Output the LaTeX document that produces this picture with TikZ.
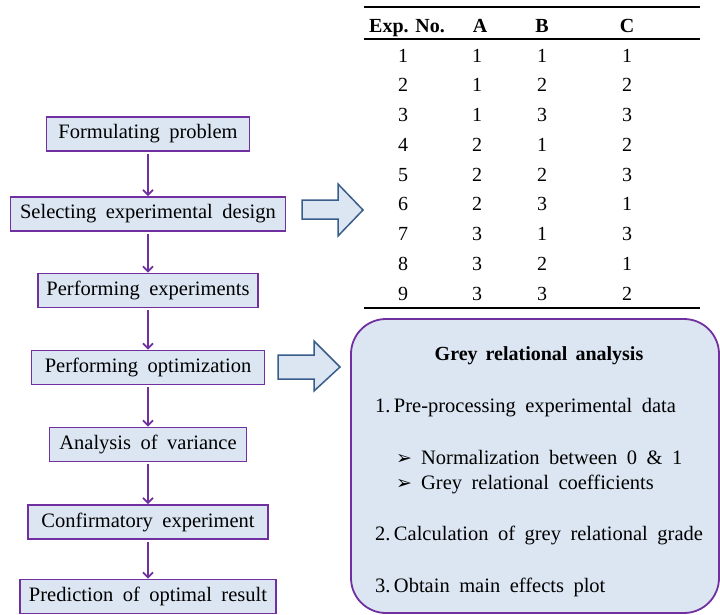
\documentclass[tikz,border=0pt]{standalone}
\usepackage{fontspec}
\setmainfont{Liberation Serif}
\newfontfamily\symfont{DejaVu Sans}
\usetikzlibrary{arrows.meta,positioning}
\definecolor{boxfill}{HTML}{DCE6F2}
\definecolor{boxline}{HTML}{7030A0}
\definecolor{arrline}{HTML}{385D8A}
\newcommand{\flowfont}{\fontsize{20.5}{24}\selectfont\spaceskip=9.5pt plus 2pt\relax}
\newcommand{\titlefont}{\bfseries\fontsize{20}{24}\selectfont\spaceskip=8pt plus 2pt\relax}
\newcommand{\pointer}{{\symfont\fontsize{19}{20}\selectfont ➢}\hspace{9pt}}

\begin{document}
\begin{tikzpicture}[x=1pt,y=-1pt,
  stepbox/.style={draw=boxline,line width=1.8pt,fill=boxfill,minimum height=34pt,inner sep=0pt,font=\flowfont},
  flow/.style={-{Straight Barb[length=5pt,width=10pt]},draw=boxline,line width=1.8pt,shorten <=2pt},
  bigarrow/.style={draw=arrline,line width=1.5pt,fill=boxfill,line join=miter},
  cell/.style={anchor=base,inner sep=0pt,font=\fontsize{20}{24}\selectfont},
  headcell/.style={cell,font=\bfseries\fontsize{20}{24}\selectfont},
  rule/.style={line width=1.3pt},
  gratext/.style={anchor=base west,inner sep=0pt,font=\flowfont}]
  \useasboundingbox (0,0) rectangle (720,614);

  % flow chart
  \node[stepbox,minimum width=203pt] (form) at (148,134) {Formulating problem};
  \node[stepbox,minimum width=275pt] (sel) at (148,214) {Selecting experimental design};
  \node[stepbox,minimum width=220pt] (perf) at (148,290.5) {Performing experiments};
  \node[stepbox,minimum width=233pt] (opt) at (148,367.5) {Performing optimization};
  \node[stepbox,minimum width=197pt] (anova) at (148,444.5) {Analysis of variance};
  \node[stepbox,minimum width=240pt] (conf) at (148,522) {Confirmatory experiment};
  \node[stepbox,minimum width=256pt] (pred) at (148,596.5) {Prediction of optimal result};
  \draw[flow] (form) -- (sel);
  \draw[flow] (sel) -- (perf);
  \draw[flow] (perf) -- (opt);
  \draw[flow] (opt) -- (anova);
  \draw[flow] (anova) -- (conf);
  \draw[flow] (conf) -- (pred);

  % block arrows
  \draw[bigarrow] (302,200) -- (338,200) -- (338,184) -- (363,210) -- (338,236) -- (338,219) -- (302,219) -- cycle;
  \draw[bigarrow] (278,355) -- (314,355) -- (314,341) -- (340,367) -- (314,391) -- (314,379) -- (278,379) -- cycle;

  % orthogonal array
  \draw[rule] (364,7) -- (700,7);
  \draw[rule] (364,39) -- (700,39);
  \draw[rule] (364,308) -- (700,308);
  \node[headcell] (hno) at (407,32) {Exp. No.};
  \node[headcell] (ha) at (480,32) {A};
  \node[headcell] (hb) at (542,32) {B};
  \node[headcell] (hc) at (627,32) {C};
  \foreach \n/\a/\b/\c [count=\r] in {1/1/1/1,2/1/2/2,3/1/3/3,4/2/1/2,5/2/2/3,6/2/3/1,7/3/1/3,8/3/2/1,9/3/3/2} {
    \node[cell] (no\r) at (403,{62+(\r-1)*29.75}) {\n};
    \node[cell] (a\r) at (477,{62+(\r-1)*29.75}) {\a};
    \node[cell] (b\r) at (542,{62+(\r-1)*29.75}) {\b};
    \node[cell] (c\r) at (627,{62+(\r-1)*29.75}) {\c};
  }

  % grey relational analysis
  \node[draw=boxline,fill=boxfill,line width=1.8pt,rounded corners=35pt,minimum width=368pt,minimum height=294pt] (gra) at (535,466) {};
  \node[cell,font=\titlefont] (title) at (539,360) {Grey relational analysis};
  \node[gratext] (s1) at (375,412) {1.\,Pre-processing experimental data};
  \node[gratext] (b1) at (396,464) {\pointer Normalization between 0 \& 1};
  \node[gratext] (b2) at (396,489) {\pointer Grey relational coefficients};
  \node[gratext] (s2) at (375,540) {2.\,Calculation of grey relational grade};
  \node[gratext] (s3) at (375,592) {3.\,Obtain main effects plot};
\end{tikzpicture}
\end{document}
